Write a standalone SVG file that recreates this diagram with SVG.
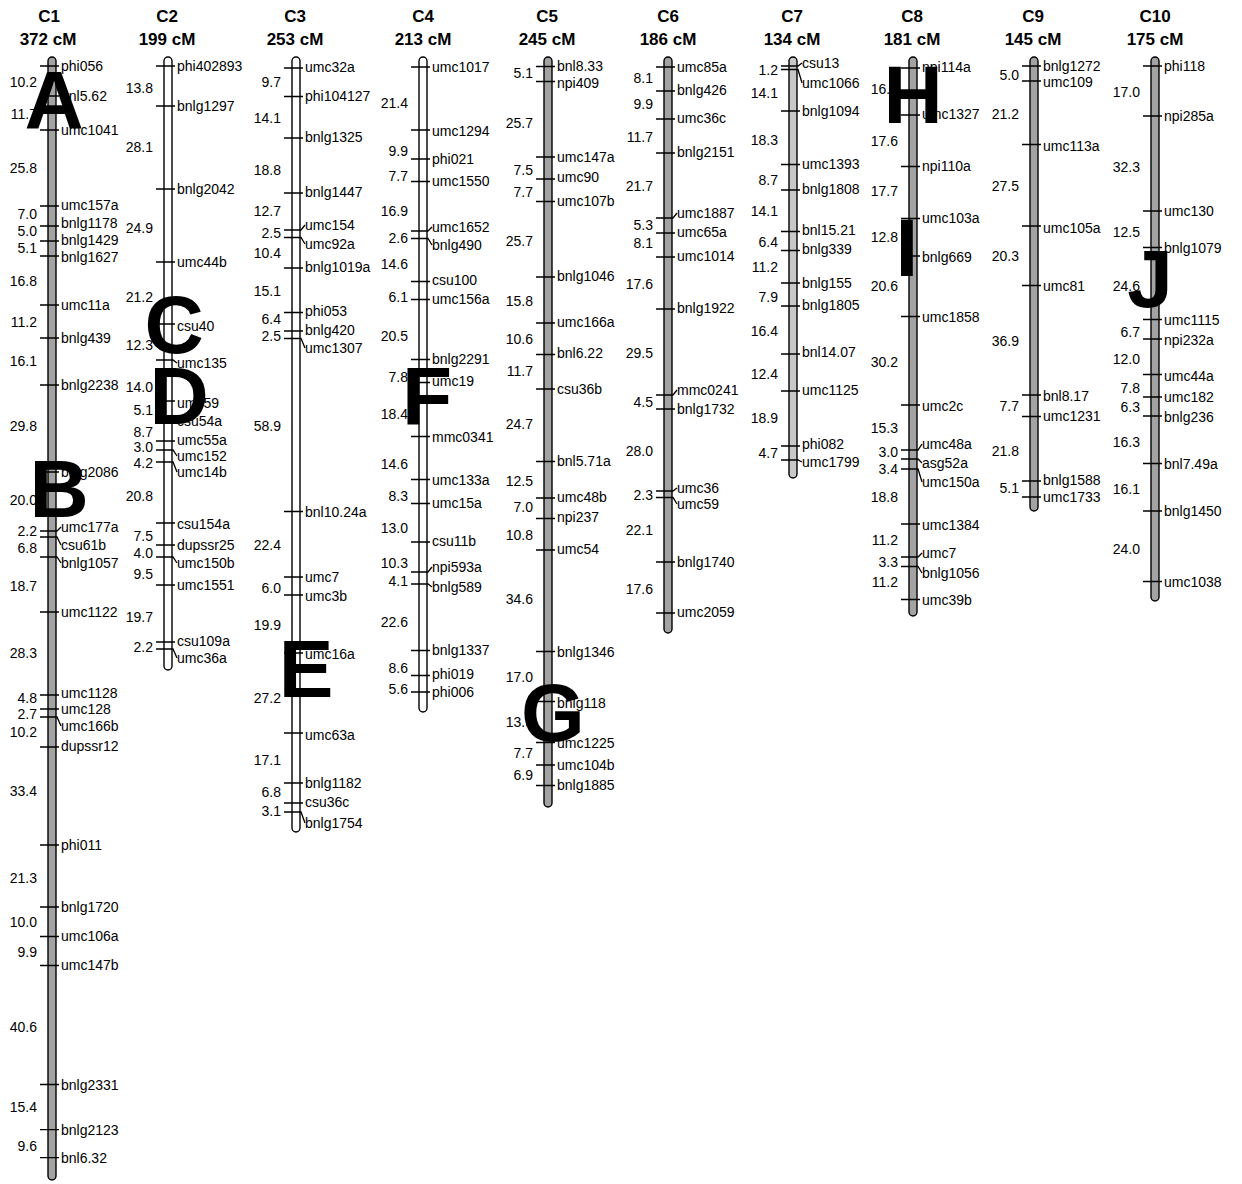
<svg xmlns="http://www.w3.org/2000/svg" width="1242" height="1184" viewBox="0 0 1242 1184">
<style>
.bar{stroke:#000;stroke-width:1.4}
.g{fill:#a3a3a3}
.w{fill:#fff}
.l{fill:#c8c8c8}
.tk{fill:none;stroke:#000;stroke-width:1.3}
text{font-family:"Liberation Sans",Arial,sans-serif;fill:#000}
.lb{font-size:14px;dominant-baseline:central}
.d{font-size:14px;text-anchor:end;dominant-baseline:central}
.t{font-size:17px;font-weight:bold;text-anchor:middle}
.q{font-size:82px;font-weight:bold;text-anchor:middle}
</style>
<rect width="1242" height="1184" fill="#fff"/>

<g id="C1">
<text class="t" x="49" y="22">C1</text><text class="t" x="48" y="45">372 cM</text>
<rect class="bar g" x="48" y="57" width="8" height="1123" rx="4"/>
<path class="tk" d="M40 66H59M40 96H59M40 130H59M40 206H59M40 226H59M40 241H59M40 256H59M40 305H59M40 338H59M40 385H59M40 472H59M40 531H57L61 527M40 537H57L61 545M40 557H57L61 563M40 612H59M40 695H59M40 709H59M40 717H57L61 726M40 747H59M40 845H59M40 907H59M40 936.5H59M40 965.5H59M40 1084.5H59M40 1129.6H59M40 1157.7H59"/>
<text class="lb" x="61" y="66">phi056</text><text class="lb" x="61" y="96">bnl5.62</text><text class="lb" x="61" y="130">umc1041</text><text class="lb" x="61" y="205">umc157a</text><text class="lb" x="61" y="223">bnlg1178</text><text class="lb" x="61" y="240">bnlg1429</text><text class="lb" x="61" y="257">bnlg1627</text><text class="lb" x="61" y="305">umc11a</text><text class="lb" x="61" y="338">bnlg439</text><text class="lb" x="61" y="385">bnlg2238</text><text class="lb" x="61" y="472">bnlg2086</text><text class="lb" x="61" y="527">umc177a</text><text class="lb" x="61" y="545">csu61b</text><text class="lb" x="61" y="563">bnlg1057</text><text class="lb" x="61" y="612">umc1122</text><text class="lb" x="61" y="693">umc1128</text><text class="lb" x="61" y="709">umc128</text><text class="lb" x="61" y="726">umc166b</text><text class="lb" x="61" y="746">dupssr12</text><text class="lb" x="61" y="845">phi011</text><text class="lb" x="61" y="907">bnlg1720</text><text class="lb" x="61" y="936">umc106a</text><text class="lb" x="61" y="965">umc147b</text><text class="lb" x="61" y="1085">bnlg2331</text><text class="lb" x="61" y="1130">bnlg2123</text><text class="lb" x="61" y="1158">bnl6.32</text>
<text class="d" x="37" y="82">10.2</text><text class="d" x="37" y="114">11.7</text><text class="d" x="37" y="168">25.8</text><text class="d" x="37" y="214">7.0</text><text class="d" x="37" y="231">5.0</text><text class="d" x="37" y="248">5.1</text><text class="d" x="37" y="281">16.8</text><text class="d" x="37" y="322">11.2</text><text class="d" x="37" y="361">16.1</text><text class="d" x="37" y="426">29.8</text><text class="d" x="37" y="500">20.0</text><text class="d" x="37" y="531">2.2</text><text class="d" x="37" y="548">6.8</text><text class="d" x="37" y="586">18.7</text><text class="d" x="37" y="653">28.3</text><text class="d" x="37" y="698">4.8</text><text class="d" x="37" y="714">2.7</text><text class="d" x="37" y="732">10.2</text><text class="d" x="37" y="791">33.4</text><text class="d" x="37" y="878">21.3</text><text class="d" x="37" y="922">10.0</text><text class="d" x="37" y="952">9.9</text><text class="d" x="37" y="1027">40.6</text><text class="d" x="37" y="1107">15.4</text><text class="d" x="37" y="1146">9.6</text>
</g>

<g id="C2">
<text class="t" x="167" y="22">C2</text><text class="t" x="167" y="45">199 cM</text>
<rect class="bar w" x="164" y="57" width="8" height="613" rx="4"/>
<path class="tk" d="M156 66H175M156 106H175M156 189H175M156 262H175M156 324H175M156 360H173L177 363M156 401H175M156 416H173L177 421M156 441H175M156 450H173L177 456M156 462H173L177 472M156 523H175M156 545H175M156 557H173L177 563M156 585H175M156 642H175M156 649H173L177 658"/>
<text class="lb" x="177" y="66">phi402893</text><text class="lb" x="177" y="106">bnlg1297</text><text class="lb" x="177" y="189">bnlg2042</text><text class="lb" x="177" y="262">umc44b</text><text class="lb" x="177" y="326">csu40</text><text class="lb" x="177" y="363">umc135</text><text class="lb" x="177" y="403">umc59</text><text class="lb" x="177" y="421">csu54a</text><text class="lb" x="177" y="440">umc55a</text><text class="lb" x="177" y="456">umc152</text><text class="lb" x="177" y="472">umc14b</text><text class="lb" x="177" y="524">csu154a</text><text class="lb" x="177" y="545">dupssr25</text><text class="lb" x="177" y="563">umc150b</text><text class="lb" x="177" y="585">umc1551</text><text class="lb" x="177" y="641">csu109a</text><text class="lb" x="177" y="658">umc36a</text>
<text class="d" x="153" y="88">13.8</text><text class="d" x="153" y="147">28.1</text><text class="d" x="153" y="228">24.9</text><text class="d" x="153" y="297">21.2</text><text class="d" x="153" y="345">12.3</text><text class="d" x="153" y="387">14.0</text><text class="d" x="153" y="410">5.1</text><text class="d" x="153" y="432">8.7</text><text class="d" x="153" y="447">3.0</text><text class="d" x="153" y="463">4.2</text><text class="d" x="153" y="496">20.8</text><text class="d" x="153" y="536">7.5</text><text class="d" x="153" y="553">4.0</text><text class="d" x="153" y="574">9.5</text><text class="d" x="153" y="617">19.7</text><text class="d" x="153" y="647">2.2</text>
</g>

<g id="C3">
<text class="t" x="295" y="22">C3</text><text class="t" x="295" y="45">253 cM</text>
<rect class="bar w" x="292" y="57" width="8" height="775" rx="4"/>
<path class="tk" d="M284 68H303M284 96.5H303M284 138H303M284 193H303M284 230H301L305 225M284 237.5H301L305 244M284 268H303M284 312.5H303M284 331H303M284 338.5H301L305 348M284 511.5H303M284 577H303M284 595H303M284 653H303M284 733H303M284 783H303M284 803H303M284 812H301L305 823"/>
<text class="lb" x="305" y="67">umc32a</text><text class="lb" x="305" y="96">phi104127</text><text class="lb" x="305" y="137">bnlg1325</text><text class="lb" x="305" y="192">bnlg1447</text><text class="lb" x="305" y="225">umc154</text><text class="lb" x="305" y="244">umc92a</text><text class="lb" x="305" y="267">bnlg1019a</text><text class="lb" x="305" y="311">phi053</text><text class="lb" x="305" y="330">bnlg420</text><text class="lb" x="305" y="348">umc1307</text><text class="lb" x="305" y="512">bnl10.24a</text><text class="lb" x="305" y="577">umc7</text><text class="lb" x="305" y="596">umc3b</text><text class="lb" x="305" y="654">umc16a</text><text class="lb" x="305" y="735">umc63a</text><text class="lb" x="305" y="783">bnlg1182</text><text class="lb" x="305" y="802">csu36c</text><text class="lb" x="305" y="823">bnlg1754</text>
<text class="d" x="281" y="82">9.7</text><text class="d" x="281" y="118">14.1</text><text class="d" x="281" y="170">18.8</text><text class="d" x="281" y="211">12.7</text><text class="d" x="281" y="233">2.5</text><text class="d" x="281" y="253">10.4</text><text class="d" x="281" y="291">15.1</text><text class="d" x="281" y="319">6.4</text><text class="d" x="281" y="336">2.5</text><text class="d" x="281" y="426">58.9</text><text class="d" x="281" y="545">22.4</text><text class="d" x="281" y="588">6.0</text><text class="d" x="281" y="625">19.9</text><text class="d" x="281" y="698">27.2</text><text class="d" x="281" y="760">17.1</text><text class="d" x="281" y="792">6.8</text><text class="d" x="281" y="811">3.1</text>
</g>

<g id="C4">
<text class="t" x="423" y="22">C4</text><text class="t" x="423" y="45">213 cM</text>
<rect class="bar w" x="419" y="57" width="8" height="655" rx="4"/>
<path class="tk" d="M411 67H430M411 130H430M411 159H430M411 181.5H430M411 231H428L432 227M411 238.5H428L432 245M411 281.5H430M411 299.5H430M411 359.5H430M411 382.5H430M411 436.5H430M411 479.5H430M411 503.5H430M411 542H430M411 572H428L432 567M411 584H428L432 587M411 650.5H430M411 675.5H430M411 692H430"/>
<text class="lb" x="432" y="67">umc1017</text><text class="lb" x="432" y="131">umc1294</text><text class="lb" x="432" y="159">phi021</text><text class="lb" x="432" y="181">umc1550</text><text class="lb" x="432" y="227">umc1652</text><text class="lb" x="432" y="245">bnlg490</text><text class="lb" x="432" y="280">csu100</text><text class="lb" x="432" y="299">umc156a</text><text class="lb" x="432" y="359">bnlg2291</text><text class="lb" x="432" y="381">umc19</text><text class="lb" x="432" y="437">mmc0341</text><text class="lb" x="432" y="480">umc133a</text><text class="lb" x="432" y="503">umc15a</text><text class="lb" x="432" y="541">csu11b</text><text class="lb" x="432" y="567">npi593a</text><text class="lb" x="432" y="587">bnlg589</text><text class="lb" x="432" y="650">bnlg1337</text><text class="lb" x="432" y="674">phi019</text><text class="lb" x="432" y="692">phi006</text>
<text class="d" x="408" y="103">21.4</text><text class="d" x="408" y="151">9.9</text><text class="d" x="408" y="176">7.7</text><text class="d" x="408" y="211">16.9</text><text class="d" x="408" y="238">2.6</text><text class="d" x="408" y="264">14.6</text><text class="d" x="408" y="297">6.1</text><text class="d" x="408" y="336">20.5</text><text class="d" x="408" y="377">7.8</text><text class="d" x="408" y="414">18.4</text><text class="d" x="408" y="464">14.6</text><text class="d" x="408" y="496">8.3</text><text class="d" x="408" y="528">13.0</text><text class="d" x="408" y="563">10.3</text><text class="d" x="408" y="581">4.1</text><text class="d" x="408" y="622">22.6</text><text class="d" x="408" y="668">8.6</text><text class="d" x="408" y="689">5.6</text>
</g>

<g id="C5">
<text class="t" x="547" y="22">C5</text><text class="t" x="547" y="45">245 cM</text>
<rect class="bar g" x="544" y="57" width="8" height="750" rx="4"/>
<path class="tk" d="M536 66.5H555M536 81.5H555M536 157H555M536 179H555M536 201.5H555M536 277H555M536 323H555M536 354.5H555M536 389H555M536 461.5H555M536 498H555M536 518.5H555M536 550H555M536 651.5H555M536 701.5H555M536 742.5H555M536 765H555M536 785.5H555"/>
<text class="lb" x="557" y="66">bnl8.33</text><text class="lb" x="557" y="83">npi409</text><text class="lb" x="557" y="157">umc147a</text><text class="lb" x="557" y="177">umc90</text><text class="lb" x="557" y="201">umc107b</text><text class="lb" x="557" y="276">bnlg1046</text><text class="lb" x="557" y="322">umc166a</text><text class="lb" x="557" y="353">bnl6.22</text><text class="lb" x="557" y="389">csu36b</text><text class="lb" x="557" y="461">bnl5.71a</text><text class="lb" x="557" y="497">umc48b</text><text class="lb" x="557" y="517">npi237</text><text class="lb" x="557" y="549">umc54</text><text class="lb" x="557" y="652">bnlg1346</text><text class="lb" x="557" y="703">bnlg118</text><text class="lb" x="557" y="743">umc1225</text><text class="lb" x="557" y="765">umc104b</text><text class="lb" x="557" y="785">bnlg1885</text>
<text class="d" x="533" y="73">5.1</text><text class="d" x="533" y="123">25.7</text><text class="d" x="533" y="170">7.5</text><text class="d" x="533" y="192">7.7</text><text class="d" x="533" y="241">25.7</text><text class="d" x="533" y="301">15.8</text><text class="d" x="533" y="339">10.6</text><text class="d" x="533" y="371">11.7</text><text class="d" x="533" y="424">24.7</text><text class="d" x="533" y="481">12.5</text><text class="d" x="533" y="507">7.0</text><text class="d" x="533" y="535">10.8</text><text class="d" x="533" y="599">34.6</text><text class="d" x="533" y="677">17.0</text><text class="d" x="533" y="722">13.9</text><text class="d" x="533" y="753">7.7</text><text class="d" x="533" y="775">6.9</text>
</g>

<g id="C6">
<text class="t" x="668" y="22">C6</text><text class="t" x="668" y="45">186 cM</text>
<rect class="bar g" x="664" y="57" width="8" height="576" rx="4"/>
<path class="tk" d="M656 67H675M656 91H675M656 119H675M656 153H675M656 218H673L677 213M656 233H675M656 257H675M656 309H675M656 395H673L677 390M656 409H675M656 491H673L677 488M656 497.5H673L677 504M656 562H675M656 613H675"/>
<text class="lb" x="677" y="67">umc85a</text><text class="lb" x="677" y="90">bnlg426</text><text class="lb" x="677" y="118">umc36c</text><text class="lb" x="677" y="152">bnlg2151</text><text class="lb" x="677" y="213">umc1887</text><text class="lb" x="677" y="232">umc65a</text><text class="lb" x="677" y="256">umc1014</text><text class="lb" x="677" y="308">bnlg1922</text><text class="lb" x="677" y="390">mmc0241</text><text class="lb" x="677" y="409">bnlg1732</text><text class="lb" x="677" y="488">umc36</text><text class="lb" x="677" y="504">umc59</text><text class="lb" x="677" y="562">bnlg1740</text><text class="lb" x="677" y="612">umc2059</text>
<text class="d" x="653" y="78">8.1</text><text class="d" x="653" y="104">9.9</text><text class="d" x="653" y="137">11.7</text><text class="d" x="653" y="186">21.7</text><text class="d" x="653" y="225">5.3</text><text class="d" x="653" y="243">8.1</text><text class="d" x="653" y="284">17.6</text><text class="d" x="653" y="353">29.5</text><text class="d" x="653" y="402">4.5</text><text class="d" x="653" y="451">28.0</text><text class="d" x="653" y="495">2.3</text><text class="d" x="653" y="530">22.1</text><text class="d" x="653" y="589">17.6</text>
</g>

<g id="C7">
<text class="t" x="792" y="22">C7</text><text class="t" x="792" y="45">134 cM</text>
<rect class="bar l" x="789" y="57" width="8" height="421" rx="4"/>
<path class="tk" d="M781 66H798L802 63M781 69.5H798L802 83M781 111H800M781 164.5H800M781 190H800M781 231.5H800M781 250.5H800M781 283H800M781 306H800M781 354H800M781 391H800M781 446H800M781 460H798L802 462"/>
<text class="lb" x="802" y="63">csu13</text><text class="lb" x="802" y="83">umc1066</text><text class="lb" x="802" y="111">bnlg1094</text><text class="lb" x="802" y="164">umc1393</text><text class="lb" x="802" y="189">bnlg1808</text><text class="lb" x="802" y="230">bnl15.21</text><text class="lb" x="802" y="249">bnlg339</text><text class="lb" x="802" y="283">bnlg155</text><text class="lb" x="802" y="305">bnlg1805</text><text class="lb" x="802" y="352">bnl14.07</text><text class="lb" x="802" y="390">umc1125</text><text class="lb" x="802" y="444">phi082</text><text class="lb" x="802" y="462">umc1799</text>
<text class="d" x="778" y="70">1.2</text><text class="d" x="778" y="93">14.1</text><text class="d" x="778" y="140">18.3</text><text class="d" x="778" y="180">8.7</text><text class="d" x="778" y="211">14.1</text><text class="d" x="778" y="242">6.4</text><text class="d" x="778" y="267">11.2</text><text class="d" x="778" y="297">7.9</text><text class="d" x="778" y="331">16.4</text><text class="d" x="778" y="374">12.4</text><text class="d" x="778" y="418">18.9</text><text class="d" x="778" y="453">4.7</text>
</g>

<g id="C8">
<text class="t" x="912" y="22">C8</text><text class="t" x="912" y="45">181 cM</text>
<rect class="bar g" x="909" y="57" width="8" height="559" rx="4"/>
<path class="tk" d="M901 68H920M901 115H920M901 166.5H920M901 218.5H920M901 256H920M901 316.5H920M901 405H920M901 450H918L922 444M901 459H918L922 463M901 469H918L922 482M901 524H920M901 557H918L922 553M901 566.5H918L922 573M901 599.5H920"/>
<text class="lb" x="922" y="67">npi114a</text><text class="lb" x="922" y="114">umc1327</text><text class="lb" x="922" y="166">npi110a</text><text class="lb" x="922" y="218">umc103a</text><text class="lb" x="922" y="257">bnlg669</text><text class="lb" x="922" y="317">umc1858</text><text class="lb" x="922" y="406">umc2c</text><text class="lb" x="922" y="444">umc48a</text><text class="lb" x="922" y="463">asg52a</text><text class="lb" x="922" y="482">umc150a</text><text class="lb" x="922" y="525">umc1384</text><text class="lb" x="922" y="553">umc7</text><text class="lb" x="922" y="573">bnlg1056</text><text class="lb" x="922" y="600">umc39b</text>
<text class="d" x="898" y="89">16.0</text><text class="d" x="898" y="141">17.6</text><text class="d" x="898" y="191">17.7</text><text class="d" x="898" y="237">12.8</text><text class="d" x="898" y="286">20.6</text><text class="d" x="898" y="362">30.2</text><text class="d" x="898" y="428">15.3</text><text class="d" x="898" y="452">3.0</text><text class="d" x="898" y="469">3.4</text><text class="d" x="898" y="497">18.8</text><text class="d" x="898" y="540">11.2</text><text class="d" x="898" y="562">3.3</text><text class="d" x="898" y="582">11.2</text>
</g>

<g id="C9">
<text class="t" x="1033" y="22">C9</text><text class="t" x="1033" y="45">145 cM</text>
<rect class="bar g" x="1030" y="57" width="8" height="454" rx="4"/>
<path class="tk" d="M1022 66H1041M1022 81H1041M1022 144.5H1041M1022 226H1041M1022 285.5H1041M1022 395H1041M1022 416.5H1041M1022 481H1041M1022 497H1041"/>
<text class="lb" x="1043" y="66">bnlg1272</text><text class="lb" x="1043" y="82">umc109</text><text class="lb" x="1043" y="146">umc113a</text><text class="lb" x="1043" y="228">umc105a</text><text class="lb" x="1043" y="286">umc81</text><text class="lb" x="1043" y="396">bnl8.17</text><text class="lb" x="1043" y="416">umc1231</text><text class="lb" x="1043" y="480">bnlg1588</text><text class="lb" x="1043" y="497">umc1733</text>
<text class="d" x="1019" y="75">5.0</text><text class="d" x="1019" y="114">21.2</text><text class="d" x="1019" y="186">27.5</text><text class="d" x="1019" y="256">20.3</text><text class="d" x="1019" y="341">36.9</text><text class="d" x="1019" y="406">7.7</text><text class="d" x="1019" y="451">21.8</text><text class="d" x="1019" y="488">5.1</text>
</g>

<g id="C10">
<text class="t" x="1155" y="22">C10</text><text class="t" x="1155" y="45">175 cM</text>
<rect class="bar g" x="1151" y="57" width="8" height="544" rx="4"/>
<path class="tk" d="M1143 66H1162M1143 116H1162M1143 211H1162M1143 247.5H1162M1143 319.5H1162M1143 339H1162M1143 374.5H1162M1143 397H1162M1143 416H1162M1143 463.5H1162M1143 511H1162M1143 581.5H1162"/>
<text class="lb" x="1164" y="66">phi118</text><text class="lb" x="1164" y="116">npi285a</text><text class="lb" x="1164" y="211">umc130</text><text class="lb" x="1164" y="248">bnlg1079</text><text class="lb" x="1164" y="320">umc1115</text><text class="lb" x="1164" y="340">npi232a</text><text class="lb" x="1164" y="376">umc44a</text><text class="lb" x="1164" y="397">umc182</text><text class="lb" x="1164" y="417">bnlg236</text><text class="lb" x="1164" y="464">bnl7.49a</text><text class="lb" x="1164" y="511">bnlg1450</text><text class="lb" x="1164" y="582">umc1038</text>
<text class="d" x="1140" y="92">17.0</text><text class="d" x="1140" y="167">32.3</text><text class="d" x="1140" y="232">12.5</text><text class="d" x="1140" y="286">24.6</text><text class="d" x="1140" y="332">6.7</text><text class="d" x="1140" y="359">12.0</text><text class="d" x="1140" y="388">7.8</text><text class="d" x="1140" y="407">6.3</text><text class="d" x="1140" y="442">16.3</text><text class="d" x="1140" y="489">16.1</text><text class="d" x="1140" y="549">24.0</text>
</g>

<g id="qtl">
<text class="q" x="54" y="128">A</text>
<text class="q" x="59" y="517">B</text>
<text class="q" x="174" y="353">C</text>
<text class="q" x="179" y="424">D</text>
<text class="q" x="306" y="697">E</text>
<text class="q" x="427" y="425">F</text>
<text class="q" x="553" y="741">G</text>
<text class="q" x="913" y="123">H</text>
<text class="q" x="907" y="276">I</text>
<text class="q" x="1150" y="307">J</text>
</g>
</svg>
